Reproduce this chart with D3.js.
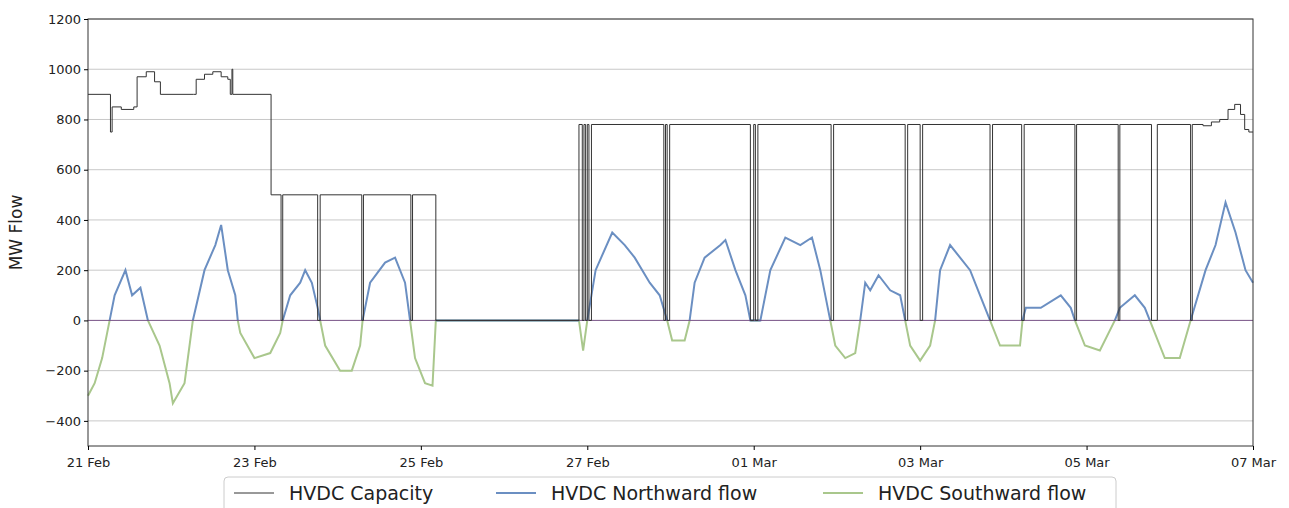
<!DOCTYPE html>
<html>
<head>
<meta charset="utf-8">
<script src="https://cdn.jsdelivr.net/npm/d3@7"></script>
<style>
  body { margin: 0; background: #fff; font-family: "DejaVu Sans", sans-serif; }
</style>
</head>
<body>
<svg id="chart" width="1289" height="508"></svg>
<script>
// days since 21 Feb 00:00, MW
const capacity = [
  [0, 900], [0.27, 750], [0.29, 850], [0.4, 840], [0.55, 850], [0.59, 970], [0.7, 990], [0.8, 950],
  [0.87, 900], [1.27, 900], [1.3, 960], [1.4, 980], [1.5, 990], [1.6, 970], [1.68, 960], [1.71, 900],
  [1.73, 1000], [1.74, 900], [2.2, 500], [2.32, 0], [2.34, 500], [2.76, 0], [2.79, 500],
  [3.29, 0], [3.31, 500], [3.88, 0], [3.9, 500], [4.18, 0],
  [5.9, 780], [5.94, 0], [5.96, 780], [5.98, 0], [6.0, 780], [6.02, 0], [6.05, 780],
  [6.92, 0], [6.94, 780], [6.96, 0], [6.99, 780], [7.96, 0], [8.0, 780], [8.02, 0], [8.05, 780],
  [8.93, 0], [8.96, 780], [9.82, 0], [9.85, 780], [10.0, 0], [10.03, 780], [10.84, 0], [10.87, 780],
  [11.22, 0], [11.25, 780], [11.86, 0], [11.88, 780], [12.38, 0], [12.4, 780], [12.78, 0], [12.85, 780],
  [13.25, 0], [13.27, 780], [13.4, 775], [13.5, 790], [13.6, 800], [13.7, 840], [13.78, 860],
  [13.85, 820], [13.9, 760], [13.95, 750], [14.0, 750]
];

const netFlow = [
  [0, -300], [0.08, -250], [0.17, -150], [0.26, 0], [0.32, 100], [0.45, 200], [0.53, 100], [0.63, 130], [0.72, 0],
  [0.86, -100], [0.98, -250], [1.02, -330], [1.16, -250], [1.22, -100], [1.26, 0],
  [1.4, 200], [1.53, 300], [1.6, 380], [1.68, 200], [1.77, 100], [1.8, 0],
  [1.83, -50], [2.0, -150], [2.19, -130], [2.31, -50], [2.34, 0],
  [2.43, 100], [2.55, 150], [2.61, 200], [2.69, 150], [2.76, 50], [2.79, 0],
  [2.85, -100], [3.03, -200], [3.17, -200], [3.27, -100], [3.3, 0],
  [3.39, 150], [3.57, 230], [3.69, 250], [3.81, 150], [3.87, 0],
  [3.93, -150], [4.05, -250], [4.14, -260], [4.18, 0],
  [5.9, 0], [5.95, -120], [6.0, 0],
  [6.1, 200], [6.3, 350], [6.45, 300], [6.57, 250], [6.75, 150], [6.87, 100], [6.96, 0],
  [7.02, -80], [7.17, -80], [7.23, 0],
  [7.29, 150], [7.41, 250], [7.6, 300], [7.66, 320], [7.78, 200], [7.9, 100], [7.96, 0],
  [8.08, 0], [8.2, 200], [8.38, 330], [8.56, 300], [8.7, 330], [8.8, 200], [8.89, 50], [8.92, 0],
  [8.98, -100], [9.1, -150], [9.22, -130], [9.28, 0],
  [9.34, 150], [9.4, 120], [9.5, 180], [9.64, 120], [9.76, 100], [9.82, 0],
  [9.88, -100], [10.0, -160], [10.12, -100], [10.18, 0],
  [10.24, 200], [10.36, 300], [10.48, 250], [10.6, 200], [10.72, 100], [10.84, 0],
  [10.96, -100], [11.2, -100], [11.23, 0],
  [11.27, 50], [11.45, 50], [11.69, 100], [11.81, 50], [11.86, 0],
  [11.98, -100], [12.16, -120], [12.34, 0],
  [12.4, 50], [12.58, 100], [12.7, 50], [12.76, 0],
  [12.94, -150], [13.12, -150], [13.25, 0],
  [13.43, 200], [13.55, 300], [13.67, 470], [13.79, 350], [13.91, 200], [14.0, 150]
];

const start = new Date(2021, 1, 21);
const tickDays = [0, 2, 4, 6, 8, 10, 12, 14];
const yTicks = [-400, -200, 0, 200, 400, 600, 800, 1000, 1200];
const legendItems = [
  { label: 'HVDC Capacity', color: '#333333', width: 1 },
  { label: 'HVDC Northward flow', color: '#6b8fc2', width: 2 },
  { label: 'HVDC Southward flow', color: '#a9c78c', width: 2 }
];

const dayToDate = d => new Date(start.getTime() + d * 86400000);
const margin = { left: 88, right: 36, top: 19, bottom: 62 };
const svg = d3.select('#chart');
const W = 1289, H = 508;

const x = d3.scaleTime()
  .domain([start, dayToDate(14)])
  .range([margin.left, W - margin.right]);
const y = d3.scaleLinear().domain([-500, 1200]).range([H - margin.bottom, margin.top]);

// grid
svg.append('g').selectAll('line').data(yTicks).join('line')
  .attr('x1', margin.left).attr('x2', W - margin.right)
  .attr('y1', d => y(d)).attr('y2', d => y(d))
  .attr('stroke', '#c8c8c8').attr('stroke-width', 1);

const line = d3.line().x(d => x(dayToDate(d[0]))).y(d => y(d[1]));

svg.append('path').datum(netFlow)
  .attr('d', line.defined(d => d[1] <= 0))
  .attr('fill', 'none').attr('stroke', legendItems[2].color).attr('stroke-width', 2);
svg.append('path').datum(netFlow)
  .attr('d', line.defined(d => d[1] >= 0))
  .attr('fill', 'none').attr('stroke', legendItems[1].color).attr('stroke-width', 2);

// zero periods
const zeroLine = d3.line().x(d => x(dayToDate(d[0]))).y(() => y(0));
svg.append('path').datum([[0, 0], [14, 0]])
  .attr('d', zeroLine).attr('stroke', '#6b3f7d').attr('stroke-width', 1).attr('fill', 'none')
  .attr('opacity', 0.8);

svg.append('path').datum(capacity)
  .attr('d', d3.line().curve(d3.curveStepAfter).x(d => x(dayToDate(d[0]))).y(d => y(d[1])))
  .attr('fill', 'none').attr('stroke', legendItems[0].color).attr('stroke-width', 1);

// frame
svg.append('rect')
  .attr('x', margin.left).attr('y', margin.top)
  .attr('width', W - margin.left - margin.right).attr('height', H - margin.top - margin.bottom)
  .attr('fill', 'none').attr('stroke', '#333');

const xAxis = svg.append('g').attr('transform', `translate(0,${H - margin.bottom})`)
  .call(d3.axisBottom(x).tickValues(tickDays.map(dayToDate)).tickFormat(d3.timeFormat('%d %b')).tickSize(4));
const yAxis = svg.append('g').attr('transform', `translate(${margin.left},0)`)
  .call(d3.axisLeft(y).tickValues(yTicks).tickFormat(d => d < 0 ? '\u2212' + Math.abs(d) : d).tickSize(4));
[xAxis, yAxis].forEach(a => {
  a.select('.domain').remove();
  a.selectAll('text').attr('font-size', 13).attr('fill', '#222').attr('font-family', 'DejaVu Sans, sans-serif');
});
xAxis.selectAll('text').attr('dy', '1.1em');

svg.append('text')
  .attr('transform', `translate(22,${(margin.top + H - margin.bottom) / 2}) rotate(-90)`)
  .attr('text-anchor', 'middle').attr('font-size', 17).attr('fill', '#222')
  .text('MW Flow');

// legend
const lg = svg.append('g');
lg.append('rect').attr('x', 224).attr('y', 477).attr('width', 892).attr('height', 40)
  .attr('rx', 4).attr('fill', '#fff').attr('stroke', '#ccc');
const lx = [234, 496, 823];
legendItems.forEach((it, i) => {
  lg.append('line').attr('x1', lx[i]).attr('x2', lx[i] + 40).attr('y1', 493).attr('y2', 493)
    .attr('stroke', it.color).attr('stroke-width', it.width);
  lg.append('text').attr('x', lx[i] + 55).attr('y', 500).attr('font-size', 19).attr('fill', '#222')
    .text(it.label);
});
</script>
</body>
</html>
